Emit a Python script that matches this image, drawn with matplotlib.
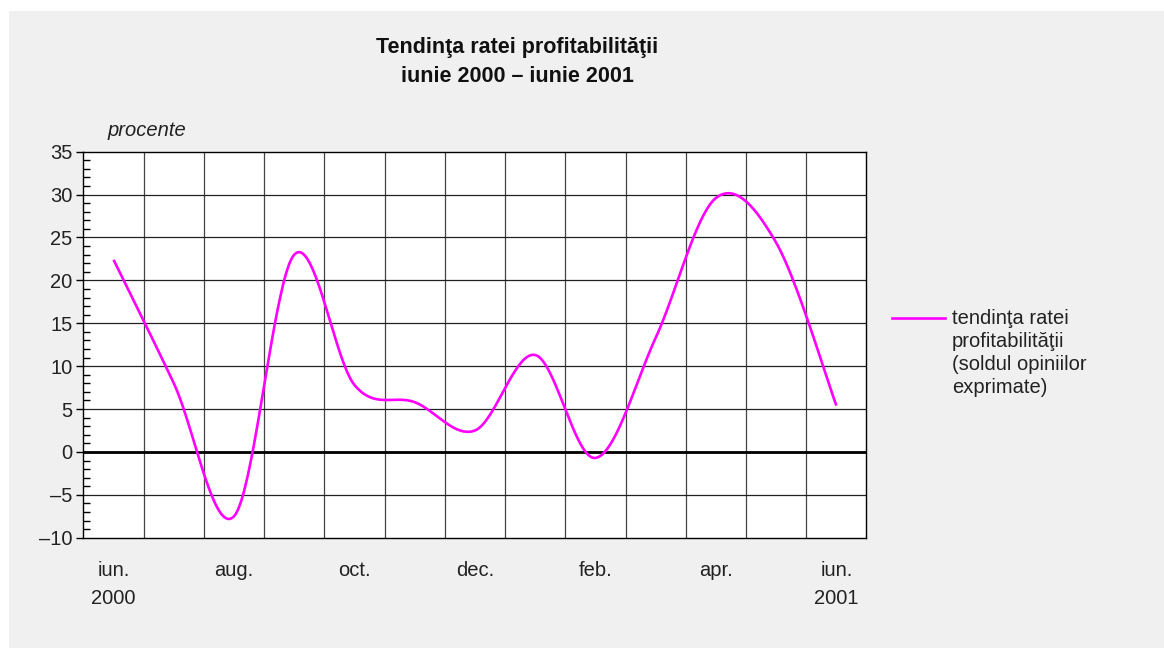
import numpy as np
import matplotlib
matplotlib.use("Agg")
import matplotlib.pyplot as plt
from matplotlib.lines import Line2D
from matplotlib.patches import Rectangle
from matplotlib.ticker import MultipleLocator

# date (procente)
luni = ["iun.", "iul.", "aug.", "sep.", "oct.", "nov.", "dec.",
        "ian.", "feb.", "mar.", "apr.", "mai", "iun."]
valori = [22.4, 8.0, -7.5, 23.0, 7.8, 5.8, 2.5, 11.3, -0.7, 13.3, 29.6, 24.4, 5.4]
etichete_x = ["iun.\n2000", "aug.", "oct.", "dec.", "feb.", "apr.", "iun.\n2001"]
poz_etichete = [0, 2, 4, 6, 8, 10, 12]
y_ticks = [-10, -5, 0, 5, 10, 15, 20, 25, 30, 35]

plt.rcParams['font.family'] = ['Liberation Sans', 'DejaVu Sans']


def netezire(x, y, n=40):
    # curba netezita ca in Excel (bezier cu puncte de control tip Catmull-Rom)
    x = np.asarray(x, float)
    y = np.asarray(y, float)
    px = np.concatenate([[x[0]], x, [x[-1]]])
    py = np.concatenate([[y[0]], y, [y[-1]]])
    xs, ys = [], []
    t = np.linspace(0, 1, n)
    for i in range(1, len(px) - 2):
        p0 = np.array([px[i - 1], py[i - 1]])
        p1 = np.array([px[i], py[i]])
        p2 = np.array([px[i + 1], py[i + 1]])
        p3 = np.array([px[i + 2], py[i + 2]])
        b1 = p1 + (p2 - p0) / 6
        b2 = p2 - (p3 - p1) / 6
        pts = ((1 - t) ** 3)[:, None] * p1 + (3 * (1 - t) ** 2 * t)[:, None] * b1 \
            + (3 * (1 - t) * t ** 2)[:, None] * b2 + (t ** 3)[:, None] * p2
        xs.extend(pts[:, 0])
        ys.extend(pts[:, 1])
    return np.array(xs), np.array(ys)


fig = plt.figure(figsize=(11.64, 6.48), dpi=100)
fig.patch.set_facecolor("white")
fig.add_artist(Rectangle((9 / 1164, 0), 1, 1 - 11 / 648, transform=fig.transFigure,
                         facecolor="#f0f0f0", edgecolor="none", zorder=-10))

ax = fig.add_axes([0.0717, 0.1702, 0.6727, 0.5957])
ax.set_facecolor("white")

x = np.arange(len(luni))
xs, ys = netezire(x, valori)
ax.plot(xs, ys, color="#ff00ff", lw=1.9, zorder=5, solid_capstyle="butt")

ax.set_xlim(-0.5, len(luni) - 0.5)
ax.set_ylim(-10, 35)

# grila
for k in range(1, len(luni)):
    ax.axvline(k - 0.5, color="#444444", lw=0.9, zorder=1)
for v in y_ticks[1:-1]:
    ax.axhline(v, color="#222222", lw=0.9, zorder=1)
ax.axhline(0, color="black", lw=2.0, zorder=3)

for s in ax.spines.values():
    s.set_color("black")
    s.set_linewidth(1.0)

ax.set_yticks(y_ticks)
ax.set_yticklabels([str(v).replace("-", "\u2013") for v in y_ticks], fontsize=14.5,
                   color="#222222")
ax.yaxis.set_minor_locator(MultipleLocator(1))
ax.tick_params(axis="y", which="major", direction="out", length=5, width=1, pad=3)
ax.tick_params(axis="y", which="minor", direction="in", length=5, width=1)

ax.set_xticks(poz_etichete)
ax.set_xticklabels(etichete_x, fontsize=14.5, linespacing=1.55, color="#222222")
ax.tick_params(axis="x", length=0, pad=17)
for lbl in ax.get_xticklabels():
    lbl.set_verticalalignment("top")

# titlu
fig.text(517 / 1164, 1 - 61.5 / 648, "Tendinţa ratei profitabilităţii\niunie 2000 \u2013 iunie 2001",
         ha="center", va="center", fontsize=15.5, fontweight="bold", linespacing=1.5,
         color="#111111")
fig.text(107 / 1164, 1 - 131 / 648, "procente", ha="left", va="center",
         fontsize=14.5, style="italic", color="#222222")

# legenda
fig.add_artist(Line2D([892 / 1164, 945 / 1164], [1 - 318 / 648, 1 - 318 / 648],
                      transform=fig.transFigure, color="#ff00ff", lw=1.9))
fig.text(952 / 1164, 1 - 309 / 648,
         "tendinţa ratei\nprofitabilităţii\n(soldul opiniilor\nexprimate)",
         ha="left", va="top", fontsize=14.5, linespacing=1.27, color="#222222")

fig.savefig("out.png", dpi=100)
